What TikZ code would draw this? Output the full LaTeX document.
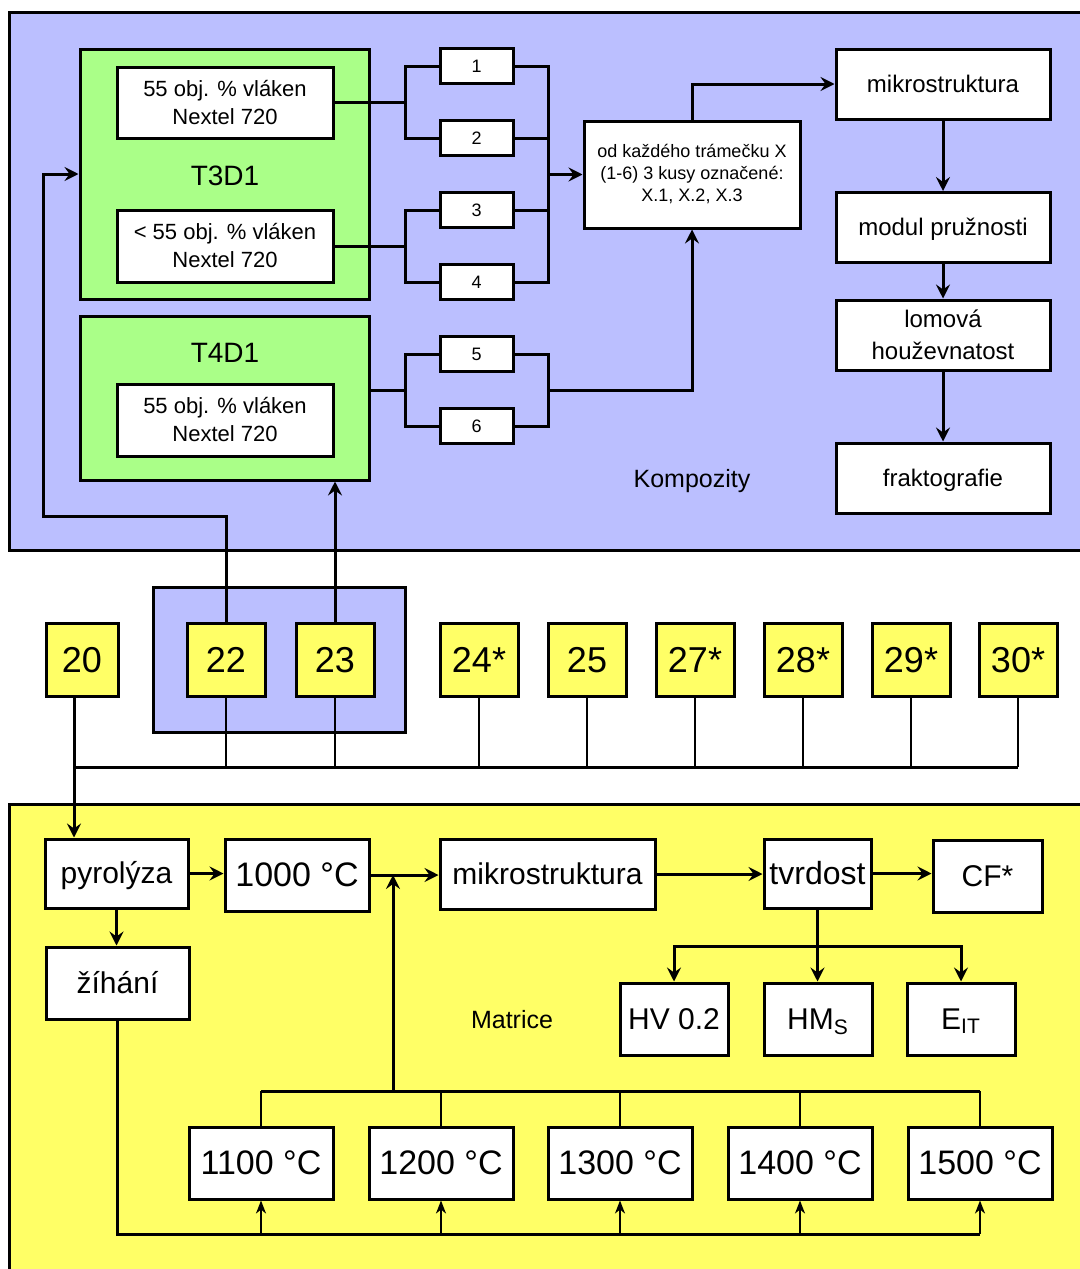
\documentclass[tikz,border=0pt]{standalone}
\usepackage{fontspec}
\setmainfont{Liberation Sans}
\usetikzlibrary{positioning,calc,arrows.meta}
\definecolor{kompblue}{RGB}{187,191,255}
\definecolor{vzgreen}{RGB}{170,255,136}
\definecolor{matyellow}{RGB}{255,255,102}
\tikzset{
  rc/.style={line width=1.5pt},
  tn/.style={line width=1pt},
  tnarr/.style={-{Stealth[length=6.5pt,width=5pt,inset=2pt]}},
  panel/.style={draw=black,line width=1.5pt},
  rectnode/.style args={#1,#2}{
  draw=black,
  fill=white,
  line width=1.5pt,
  inner sep=0pt,
  align=center,
  minimum width=#1*0.5pt,
  minimum height=#2*0.5pt,
  },
  grpnode/.style args={#1,#2}{
  rectnode={#1,#2},
  fill=vzgreen,
  },
  sample/.style={rectnode={78,73},fill=matyellow,font=\fontsize{18}{20}\selectfont,text height=16.3pt,text depth=3.8pt},
  smallno/.style={rectnode={73,35},font=\fontsize{9}{11}\selectfont,text height=8.1pt,text depth=1.9pt},
  komp/.style={rectnode={214,70},font=\fontsize{12}{16}\selectfont,text height=10.9pt,text depth=2.5pt},
  mat/.style={font=\fontsize{15}{18}\selectfont,text height=13.6pt,text depth=3.2pt},
  temp/.style={rectnode={144,72},font=\fontsize{17}{20}\selectfont,text height=15.4pt,text depth=3.6pt}
}

\begin{document}
\begin{tikzpicture}[x=0.5pt,y=-0.5pt,>={Stealth[length=7pt,width=7pt,inset=2.5pt]}]
  \useasboundingbox (0,0) rectangle (1080,1269);

  % panels
  \draw [panel,fill=kompblue] (9,12) rectangle (1100,550);
  \draw [panel,fill=matyellow] (9,804) rectangle (1100,1285);
  \draw [panel,fill=kompblue] (153,587) rectangle (405,732);

  % kompozity
  \node [grpnode={289,250}] (t3) at (224.5,174) {};
  \node [grpnode={289,164}] (t4) at (224.5,398) {};
  \node [font=\fontsize{14}{16}\selectfont] (t3lab) at (225,176) {T3D1};
  \node [font=\fontsize{14}{16}\selectfont] (t4lab) at (225,353) {T4D1};
  \node [rectnode={216,71},font=\fontsize{11}{14}\selectfont] (in1) at (225,102.5) {55 obj. \% vláken\\Nextel 720};
  \node [rectnode={216,72},font=\fontsize{11}{14}\selectfont] (in2) at (225,246) {< 55 obj. \% vláken\\Nextel 720};
  \node [rectnode={216,72},font=\fontsize{11}{14}\selectfont] (in3) at (225,420) {55 obj. \% vláken\\Nextel 720};

  \foreach \i in {1,...,6}
    \node [smallno] (s\i) at (476.5,{66+72*(\i-1)}) {\i};

  \node [rectnode={216,107},font=\fontsize{9}{11}\selectfont] (od) at (692,174.5) {od každého trámečku X\\(1-6) 3 kusy označené:\\X.1, X.2, X.3};

  \node [komp] (mik) at (943,84) {mikrostruktura};
  \node [komp] (mod) at (943,227.5) {modul pružnosti};
  \node [komp,text height=,text depth=] (lom) at (943,335) {lomová\\houževnatost};
  \node [komp] (fra) at (943,478) {fraktografie};
  \node [font=\fontsize{12.5}{15}\selectfont] (kompl) at (692,481) {Kompozity};

  \coordinate (sp) at (405,0);
  \coordinate (jn) at (548,0);
  \draw [rc] (in1.east) -- (in1.east -| sp);
  \draw [rc] (s1.west) -| (sp |- s2.west) -- (s2.west);
  \draw [rc] (in2.east) -- (in2.east -| sp);
  \draw [rc] (s3.west) -| (sp |- s4.west) -- (s4.west);
  \draw [rc] (s5.west) -| (sp |- s6.west) -- (s6.west);
  \coordinate (m56) at ($(s5.west -| sp)!0.5!(s6.west -| sp)$);
  \draw [rc] (m56 -| t4.east) -- (m56);

  \draw [rc] (s1.east) -| (jn |- s4.east) -- (s4.east);
  \draw [rc] (s2.east) -- (s2.east -| jn);
  \draw [rc] (s3.east) -- (s3.east -| jn);
  \draw [rc,->] (jn |- od.west) -- (od.west);
  \draw [rc] (s5.east) -| (jn |- s6.east) -- (s6.east);
  \draw [rc,->] ($(s5.east -| jn)!0.5!(s6.east -| jn)$) -| (od.south);
  \draw [rc,->] (od.north) |- (mik.west);
  \draw [rc,->] (mik) -- (mod);
  \draw [rc,->] (mod) -- (lom);
  \draw [rc,->] (lom) -- (fra);

  % vzorky
  \node [sample,minimum width=36pt] (y20) at (82,659.5) {20};
  \foreach \n/\lab/\x in {22/22/226,23/23/335,24/24*/479,25/25/587,27/27*/695,28/28*/803,29/29*/911,30/30*/1018}
    \node [sample] (y\n) at (\x,659.5) {\lab};

  \coordinate (fb) at (43,516);
  \draw [rc,->] (y22.north) |- (fb) |- (t3.west);
  \draw [rc,->] (y23.north) -- (y23.north |- t4.south);

  \coordinate (bus) at (74,767);
  \draw [rc] (bus) -- (bus -| y30.south);
  \foreach \n in {22,23,24,25,27,28,29,30}
    \draw [tn] (y\n.south) -- (y\n.south |- bus);

  % matrice
  \node [rectnode={143,69},mat] (pyro) at (116.5,873.5) {pyrolýza};
  \node [temp] (t1000) at (297,875) {1000 °C};
  \node [rectnode={215,70},mat] (mikm) at (547.5,874) {mikrostruktura};
  \node [rectnode={107,69},font=\fontsize{16}{18}\selectfont,text height=14.5pt,text depth=3.4pt] (tvr) at (817.5,873.5) {tvrdost};
  \node [rectnode={109,72},mat] (cf) at (987.5,876) {CF*};
  \node [rectnode={143,72},mat] (zih) at (117.5,983) {žíhání};
  \node [rectnode={108,72},mat] (hv) at (674,1019) {HV 0.2};
  \node [rectnode={108,72},mat] (hm) at (818,1019) {HM\textsubscript{S}};
  \node [rectnode={108,72},mat] (eit) at (961,1019) {E\textsubscript{IT}};
  \node [font=\fontsize{12.5}{15}\selectfont] (matl) at (512,1020) {Matrice};
  \foreach \i/\t/\x in {1/1100/261,2/1200/441,3/1300/620,4/1400/800,5/1500/980}
    \node [temp] (c\i) at (\x,1163) {\t\ °C};

  \draw [rc,->] (y20.south -| bus) -- (bus |- pyro.north);
  \draw [rc,->] (pyro.east) -- (pyro.east -| t1000.west);
  \draw [rc,->] (pyro.south) -- (pyro.south |- zih.north);
  \draw [rc,->] (t1000.east) -- (t1000.east -| mikm.west);
  \draw [rc,->] (mikm.east) -- (mikm.east -| tvr.west);
  \draw [rc,->] (tvr.east) -- (tvr.east -| cf.west);
  \draw [rc,->] (tvr.south) -- (tvr.south |- hm.north);
  \coordinate (hj) at (818,946);
  \draw [rc,->] (hj) -| (hv.north);
  \draw [rc,->] (hj) -| (eit.north);

  \coordinate (tj) at (393,1091);
  \draw [rc,->] (tj) -- (tj |- t1000.east);
  \draw [rc] (c1.north |- tj) -- (c5.north |- tj);
  \coordinate (tb) at (118,1234);
  \draw [rc] (zih.south) |- (c5.south |- tb);
  \foreach \i in {1,...,5} {
    \draw [tn] (c\i.north) -- (c\i.north |- tj);
    \draw [tn,tnarr] (c\i.south |- tb) -- (c\i.south);
  }
\end{tikzpicture}
\end{document}
